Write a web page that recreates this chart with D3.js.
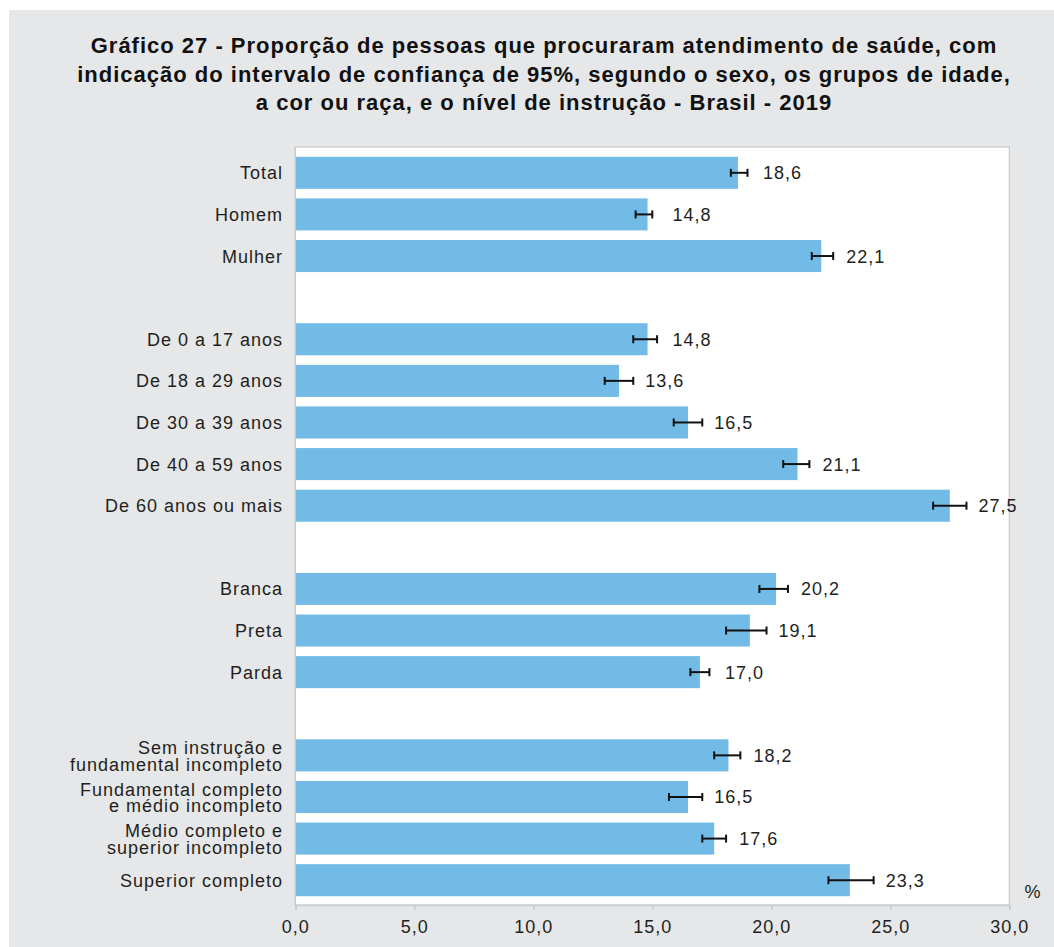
<!DOCTYPE html>
<html>
<head>
<meta charset="utf-8">
<script src="https://cdn.jsdelivr.net/npm/d3@7"></script>
<style>
  html, body { margin: 0; padding: 0; background: #fff; }
  svg { display: block; }
  text { font-family: "Liberation Sans", Arial, sans-serif; fill: #231f20; letter-spacing: 1px; }
</style>
</head>
<body>
<svg id="grafico"></svg>
<script>
// Dados — null = linha vazia entre grupos
const categorias = [
  'Total', 'Homem', 'Mulher', null,
  'De 0 a 17 anos', 'De 18 a 29 anos', 'De 30 a 39 anos', 'De 40 a 59 anos', 'De 60 anos ou mais', null,
  'Branca', 'Preta', 'Parda', null,
  'Sem instrução e|fundamental incompleto', 'Fundamental completo|e médio incompleto',
  'Médio completo e|superior incompleto', 'Superior completo'
];
const valores = [18.6, 14.8, 22.1, null, 14.8, 13.6, 16.5, 21.1, 27.5, null, 20.2, 19.1, 17.0, null, 18.2, 16.5, 17.6, 23.3];
const icInferior = [18.3, 14.3, 21.7, null, 14.2, 13.0, 15.9, 20.5, 26.8, null, 19.5, 18.1, 16.6, null, 17.6, 15.7, 17.1, 22.4];
const icSuperior = [19.0, 15.0, 22.6, null, 15.2, 14.2, 17.1, 21.6, 28.2, null, 20.7, 19.8, 17.4, null, 18.7, 17.1, 18.1, 24.3];
const ticksX = [0, 5, 10, 15, 20, 25, 30];
const titulo = [
  'Gráfico 27 - Proporção de pessoas que procuraram atendimento de saúde, com',
  'indicação do intervalo de confiança de 95%, segundo o sexo, os grupos de idade,',
  'a cor ou raça, e o nível de instrução - Brasil - 2019'
];

const W = 1054, H = 947;
const br = d3.formatLocale({ decimal: ',', thousands: '.', grouping: [3], currency: ['R$', ''] });
const fmt = br.format('.1f');

const svg = d3.select('#grafico').attr('width', W).attr('height', H);

// fundo cinza
svg.append('rect').attr('x', 9).attr('y', 10).attr('width', W - 9).attr('height', H - 10).attr('fill', '#e6e7e8');

// título
svg.append('g').selectAll('text')
  .data(titulo)
  .enter().append('text')
  .attr('x', 544)
  .attr('y', (d, i) => 53 + i * 28.5)
  .attr('text-anchor', 'middle')
  .attr('font-size', 22)
  .attr('font-weight', 'bold')
  .style('letter-spacing', '1px')
  .style('fill', '#111')
  .text(d => d);

// escalas
const x = d3.scaleLinear().domain([0, 30]).range([295.3, 1009.3]);
const y = d3.scaleBand().domain(d3.range(categorias.length)).range([152, 901])
  .paddingInner(0.23).paddingOuter(0.115);

// área do gráfico
svg.append('rect')
  .attr('x', x(0)).attr('y', 147)
  .attr('width', x(30) - x(0)).attr('height', 905 - 147)
  .attr('fill', '#fff').attr('stroke', '#c9cacc').attr('stroke-width', 1.2);

const linhas = d3.range(categorias.length).filter(i => valores[i] !== null);

// barras
svg.append('g').selectAll('rect')
  .data(linhas)
  .enter().append('rect')
  .attr('x', x(0))
  .attr('y', i => y(i))
  .attr('width', i => x(valores[i]) - x(0))
  .attr('height', y.bandwidth())
  .attr('fill', '#72bbe6');

// intervalos de confiança
const ic = svg.append('g').attr('stroke', '#111').attr('stroke-width', 2);
linhas.forEach(i => {
  const cy = y(i) + y.bandwidth() / 2;
  ic.append('line').attr('x1', x(icInferior[i])).attr('x2', x(icSuperior[i])).attr('y1', cy).attr('y2', cy);
  ic.append('line').attr('x1', x(icInferior[i])).attr('x2', x(icInferior[i])).attr('y1', cy - 4).attr('y2', cy + 4);
  ic.append('line').attr('x1', x(icSuperior[i])).attr('x2', x(icSuperior[i])).attr('y1', cy - 4).attr('y2', cy + 4);
});

// rótulos de valor
svg.append('g').selectAll('text')
  .data(linhas)
  .enter().append('text')
  .attr('x', i => Math.max(x(valores[i]) + 25, x(icSuperior[i]) + 12))
  .attr('y', i => y(i) + y.bandwidth() / 2)
  .attr('dy', '0.36em')
  .attr('font-size', 18)
  .text(i => fmt(valores[i]));

// rótulos das categorias
const cat = svg.append('g').selectAll('text')
  .data(linhas)
  .enter().append('text')
  .attr('text-anchor', 'end')
  .attr('font-size', 18)
  .attr('y', i => y(i) + y.bandwidth() / 2);
cat.each(function (i) {
  const partes = categorias[i].split('|');
  const t = d3.select(this);
  partes.forEach((p, k) => {
    t.append('tspan')
      .attr('x', 283)
      .attr('dy', k === 0 ? (partes.length > 1 ? '-0.08em' : '0.36em') : '0.94em')
      .text(p);
  });
});

// eixo x
const eixo = svg.append('g')
  .attr('transform', `translate(0,905)`)
  .call(d3.axisBottom(x).tickValues(ticksX).tickSize(5).tickPadding(10).tickFormat(fmt));
eixo.select('.domain').attr('stroke', '#c9cacc').attr('stroke-width', 1.5);
eixo.selectAll('.tick line').attr('stroke', '#c9cacc').attr('stroke-width', 1.5);
eixo.selectAll('.tick text').attr('font-size', 18).attr('font-family', '"Liberation Sans", Arial, sans-serif')
  .style('fill', '#231f20');

// eixo y (linha)
svg.append('line').attr('x1', x(0)).attr('x2', x(0)).attr('y1', 147).attr('y2', 905)
  .attr('stroke', '#c9cacc').attr('stroke-width', 1.5);

svg.append('text').attr('x', 1033).attr('y', 898).attr('text-anchor', 'middle').attr('font-size', 18).text('%');
</script>
</body>
</html>
